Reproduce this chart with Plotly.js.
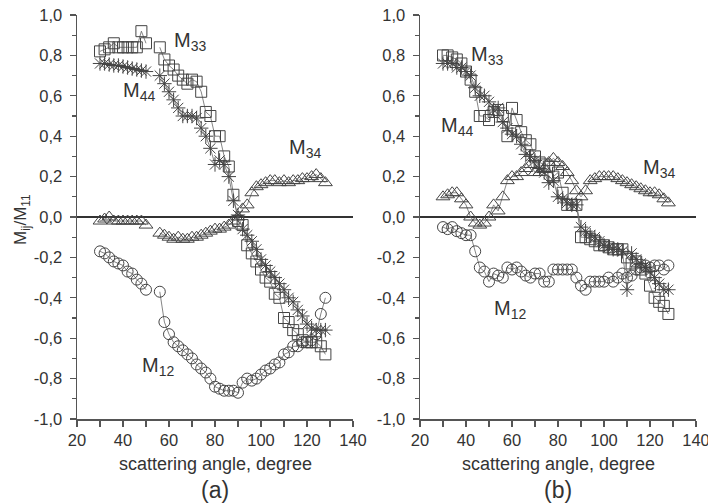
<!DOCTYPE html>
<html>
<head>
<meta charset="utf-8">
<script src="https://cdn.plot.ly/plotly-3.0.1.min.js"></script>
<style>html,body{margin:0;padding:0;background:#fff;}#chart{width:708px;height:504px;}</style>
</head>
<body>
<div id="chart"></div>
<script>
// ---------- data: panel (a) ----------
const anglesA = [30,32,34,36,38,40,42,44,46,48,50,56,58,60,62,64,66,68,70,72,74,76,78,80,82,84,86,88,90,92,94,96,98,100,102,104,106,108,110,112,114,116,118,120,122,124,126,128];
const m12A = [-0.17,-0.18,-0.20,-0.22,-0.23,-0.24,-0.27,-0.28,-0.31,-0.33,-0.36,-0.37,-0.52,-0.58,-0.62,-0.64,-0.66,-0.68,-0.70,-0.73,-0.75,-0.77,-0.80,-0.84,-0.85,-0.86,-0.86,-0.86,-0.87,-0.82,-0.80,-0.81,-0.80,-0.78,-0.76,-0.75,-0.73,-0.72,-0.68,-0.67,-0.64,-0.64,-0.62,-0.62,-0.61,-0.58,-0.48,-0.40];
const m33A = [0.82,0.83,0.84,0.86,0.84,0.84,0.84,0.84,0.84,0.92,0.86,0.84,0.78,0.75,0.73,0.70,0.68,0.66,0.68,0.67,0.62,0.52,0.50,0.40,0.40,0.30,0.25,0.11,-0.02,-0.04,-0.14,-0.18,-0.22,-0.26,-0.30,-0.32,-0.38,-0.40,-0.50,-0.52,-0.56,-0.58,-0.61,-0.62,-0.62,-0.62,-0.64,-0.68];
const m44A = [0.76,0.76,0.755,0.75,0.75,0.745,0.74,0.735,0.73,0.725,0.72,0.70,0.66,0.62,0.58,0.54,0.50,0.50,0.50,0.49,0.44,0.40,0.34,0.26,0.28,0.26,0.20,0.08,0.01,-0.06,-0.09,-0.12,-0.16,-0.21,-0.24,-0.27,-0.30,-0.33,-0.36,-0.40,-0.42,-0.46,-0.49,-0.53,-0.55,-0.56,-0.56,-0.56];
const m34A = [-0.02,-0.01,0.00,-0.02,-0.02,-0.02,-0.02,-0.02,-0.02,-0.02,-0.04,-0.08,-0.09,-0.10,-0.11,-0.10,-0.11,-0.11,-0.10,-0.10,-0.09,-0.08,-0.07,-0.06,-0.06,-0.05,-0.04,-0.02,0.00,0.04,0.06,0.12,0.15,0.16,0.17,0.18,0.18,0.17,0.18,0.17,0.18,0.18,0.19,0.19,0.20,0.21,0.19,0.17];

// ---------- data: panel (b) ----------
const anglesB = [30,32,34,36,38,40,42,44,46,48,50,52,54,56,58,60,62,64,66,68,70,72,74,76,78,80,82,84,86,88,90,92,94,96,98,100,102,104,106,108,110,112,114,116,118,120,122,124,126,128];
const m12B = [-0.05,-0.06,-0.05,-0.07,-0.08,-0.09,-0.09,-0.17,-0.25,-0.27,-0.32,-0.28,-0.29,-0.30,-0.25,-0.26,-0.25,-0.27,-0.29,-0.30,-0.28,-0.28,-0.32,-0.32,-0.26,-0.26,-0.26,-0.26,-0.26,-0.30,-0.34,-0.36,-0.32,-0.32,-0.32,-0.32,-0.30,-0.32,-0.30,-0.28,-0.30,-0.29,-0.26,-0.25,-0.24,-0.25,-0.24,-0.24,-0.26,-0.24];
const m33B = [0.80,0.80,0.79,0.78,0.76,0.72,0.68,0.62,0.50,0.50,0.48,0.52,0.53,0.50,0.40,0.54,0.48,0.42,0.38,0.36,0.30,0.27,0.26,0.25,0.20,0.22,0.12,0.06,0.06,0.06,-0.10,-0.10,-0.11,-0.12,-0.14,-0.14,-0.15,-0.16,-0.16,-0.16,-0.20,-0.23,-0.22,-0.26,-0.28,-0.34,-0.40,-0.42,-0.44,-0.48];
const m44B = [0.76,0.76,0.76,0.74,0.74,0.72,0.70,0.64,0.60,0.60,0.57,0.53,0.54,0.47,0.44,0.41,0.40,0.36,0.31,0.30,0.28,0.24,0.22,0.17,0.18,0.10,0.09,0.07,0.06,0.06,-0.05,-0.07,-0.09,-0.10,-0.12,-0.14,-0.15,-0.16,-0.16,-0.17,-0.36,-0.18,-0.21,-0.23,-0.25,-0.27,-0.30,-0.33,-0.36,-0.36];
const m34B = [0.10,0.11,0.12,0.12,0.09,0.06,0.00,-0.03,-0.04,-0.03,0.00,0.06,0.03,0.10,0.18,0.20,0.20,0.22,0.24,0.26,0.22,0.22,0.24,0.27,0.29,0.27,0.25,0.22,0.18,0.13,0.10,0.13,0.18,0.19,0.20,0.20,0.20,0.20,0.19,0.18,0.17,0.16,0.15,0.14,0.13,0.12,0.12,0.11,0.09,0.07];

// ---------- axis labels ----------
const xTicks = [20,40,60,80,100,120,140];
const yTicks = [-1,-0.8,-0.6,-0.4,-0.2,0,0.2,0.4,0.6,0.8,1];
const yTickText = ["-1,0","-0,8","-0,6","-0,4","-0,2","0,0","0,2","0,4","0,6","0,8","1,0"];
const xTitle = "scattering angle, degree";
const panelLabels = ["(a)","(b)"];

// ---------- build ----------
const FONT = "Liberation Sans, Arial, Helvetica, sans-serif";
const INK = "#444";

function withGaps(xs, ys) {
  const gx = [], gy = [];
  for (let i = 0; i < xs.length; i++) {
    if (i > 0 && xs[i] - xs[i-1] > 3) { gx.push(null); gy.push(null); }
    gx.push(xs[i]); gy.push(ys[i]);
  }
  return {x: gx, y: gy};
}

function series(xs, ys, symbol, size, xa, ya) {
  const g = withGaps(xs, ys);
  return {
    type: "scatter", mode: "lines+markers",
    x: g.x, y: g.y, xaxis: xa, yaxis: ya,
    connectgaps: false,
    line: {color: "#666", width: 0.8},
    marker: {symbol: symbol, size: size, color: INK, line: {color: INK, width: 1}},
    showlegend: false, hoverinfo: "skip"
  };
}

const traces = [
  series(anglesA, m12A, "circle-open", 11, "x", "y"),
  series(anglesA, m34A, "triangle-up-open", 12, "x", "y"),
  series(anglesA, m33A, "square-open", 11, "x", "y"),
  series(anglesA, m44A, "asterisk-open", 12, "x", "y"),
  series(anglesB, m12B, "circle-open", 11, "x2", "y2"),
  series(anglesB, m34B, "triangle-up-open", 12, "x2", "y2"),
  series(anglesB, m33B, "square-open", 11, "x2", "y2"),
  series(anglesB, m44B, "asterisk-open", 12, "x2", "y2")
];

function xAxis(domain, anchor) {
  return {
    domain: domain, anchor: anchor, range: [20, 140],
    tickmode: "array", tickvals: xTicks, ticktext: xTicks.map(String),
    ticks: "outside", ticklen: 6, tickwidth: 1.2, tickcolor: "#555",
    minor: {dtick: 10, tick0: 20, ticks: "outside", ticklen: 6, tickwidth: 1.2, tickcolor: "#555"},
    showline: true, linecolor: "#555", linewidth: 1.5,
    showgrid: false, zeroline: false,
    ticklabeloverflow: "allow",
    tickfont: {family: FONT, size: 16.5, color: "#333"}
  };
}
function yAxis(domain, anchor) {
  return {
    domain: domain, anchor: anchor, range: [-1, 1],
    tickmode: "array", tickvals: yTicks, ticktext: yTickText,
    ticks: "outside", ticklen: 6, tickwidth: 1.2, tickcolor: "#555",
    minor: {dtick: 0.1, tick0: 0, ticks: "outside", ticklen: 4, tickwidth: 1.2, tickcolor: "#555"},
    showline: true, linecolor: "#555", linewidth: 1.5,
    showgrid: false,
    zeroline: true, zerolinecolor: "#333", zerolinewidth: 1.2,
    ticklabeloverflow: "allow",
    ticklabelstandoff: 4,
    tickfont: {family: FONT, size: 16.5, color: "#333"}
  };
}

const yDom = [(504-419)/504, (504-15)/504];
const layout = {
  width: 708, height: 504,
  margin: {l: 0, r: 0, t: 0, b: 0},
  paper_bgcolor: "#fff", plot_bgcolor: "#fff",
  font: {family: FONT, color: "#333"},
  xaxis: xAxis([77/708, 353/708], "y"),
  yaxis: yAxis(yDom, "x"),
  xaxis2: xAxis([420/708, 696/708], "y2"),
  yaxis2: yAxis(yDom, "x2"),
  annotations: []
};

function lab(text, x, y, xa, ya) {
  return {text: text, x: x, y: y, xref: xa, yref: ya, showarrow: false,
          xanchor: "center", yanchor: "middle",
          font: {family: FONT, size: 20, color: "#333"}};
}
layout.annotations.push(
  lab("M<sub>33</sub>", 69, 0.87, "x", "y"),
  lab("M<sub>44</sub>", 47, 0.62, "x", "y"),
  lab("M<sub>34</sub>", 119, 0.34, "x", "y"),
  lab("M<sub>12</sub>", 55, -0.74, "x", "y"),
  lab("M<sub>33</sub>", 49, 0.80, "x2", "y2"),
  lab("M<sub>44</sub>", 36, 0.45, "x2", "y2"),
  lab("M<sub>34</sub>", 124, 0.24, "x2", "y2"),
  lab("M<sub>12</sub>", 59, -0.46, "x2", "y2")
);
const centers = [215/708, 558/708];
centers.forEach((cx, i) => {
  layout.annotations.push({text: xTitle, x: cx, y: 1 - 464/504, xref: "paper", yref: "paper",
    showarrow: false, xanchor: "center", yanchor: "middle",
    font: {family: FONT, size: 18, color: "#333"}});
  layout.annotations.push({text: panelLabels[i], x: cx, y: 1 - 490/504, xref: "paper", yref: "paper",
    showarrow: false, xanchor: "center", yanchor: "middle",
    font: {family: FONT, size: 23, color: "#333"}});
});
layout.annotations.push({text: "M<sub>ij</sub>/M<sub>11</sub>", x: 22/708, y: 1 - 220/504,
  xref: "paper", yref: "paper", showarrow: false, textangle: -90,
  xanchor: "center", yanchor: "middle",
  font: {family: FONT, size: 17, color: "#333"}});

Plotly.newPlot("chart", traces, layout, {staticPlot: true, displayModeBar: false});
</script>
</body>
</html>
